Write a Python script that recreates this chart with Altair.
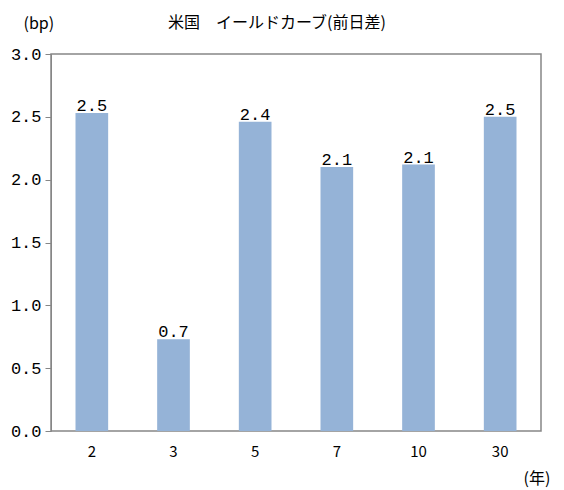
import altair as alt
import pandas as pd

categories = ["2", "3", "5", "7", "10", "30"]
values = [2.53, 0.73, 2.46, 2.10, 2.12, 2.50]
labels = ["2.5", "0.7", "2.4", "2.1", "2.1", "2.5"]
title_text = ["米国　イールドカーブ(前日差)"]

df = pd.DataFrame({"term": categories, "value": values, "label": labels})
tdf = pd.DataFrame({"t": title_text})

mono = "Liberation Mono"
jp = "Noto Sans CJK JP"

base = alt.Chart(df).encode(
    x=alt.X("term:N", sort=categories,
            scale=alt.Scale(paddingInner=0.6, paddingOuter=0.3),
            axis=alt.Axis(title="(年)", titleFont=jp, titleFontSize=16, titleFontWeight="normal",
                          titleX=472, titleY=47, titleAlign="left", titleBaseline="middle",
                          titleColor="black",
                          labelAngle=0, labelFont=jp, labelFontSize=15, labelColor="black",
                          labelPadding=13, ticks=False, domain=False)),
)

bars = base.mark_bar(color="#95B3D7").encode(
    y=alt.Y("value:Q", scale=alt.Scale(domain=[0, 3]),
            axis=alt.Axis(title="(bp)", titleFont=jp, titleFontSize=16, titleFontWeight="normal",
                          titleAngle=0, titleX=-28, titleY=-31, titleAlign="left",
                          titleBaseline="middle", titleColor="black",
                          values=[0, 0.5, 1, 1.5, 2, 2.5, 3], format=".1f",
                          labelFont=mono, labelFontSize=17, labelColor="black", labelPadding=4,
                          grid=False, tickSize=6, tickColor="#868686", domainColor="#868686",
                          tickCount=7)),
)

text = base.mark_text(baseline="bottom", dy=2, font=mono, fontSize=17, color="black").encode(
    y="value:Q", text="label:N"
)

title = alt.Chart(tdf).mark_text(font=jp, fontSize=16, color="black", baseline="middle",
                                 align="center").encode(
    x=alt.value(226), y=alt.value(-31), text="t:N"
)

chart = (bars + text + title).properties(
    width=490, height=377,
    autosize=alt.AutoSizeParams(type="none"),
    padding={"left": 51, "top": 54, "right": 23, "bottom": 59},
).configure_view(stroke="#868686", strokeWidth=1.5)

chart.save("out.html", embed_options={"renderer": "svg", "actions": False})
